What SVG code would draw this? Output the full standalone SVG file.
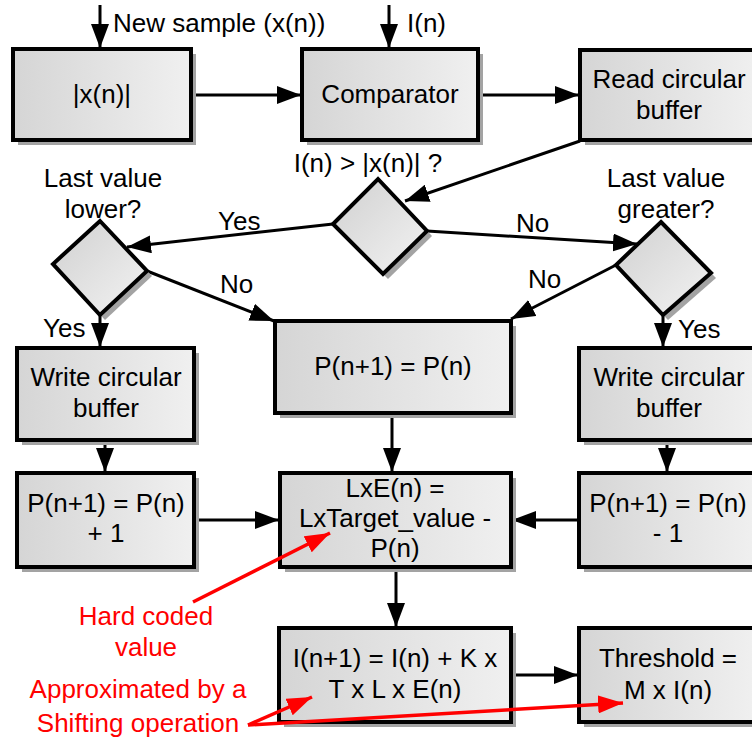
<svg xmlns="http://www.w3.org/2000/svg" width="752" height="738" viewBox="0 0 752 738">
<defs>
<linearGradient id="gb" x1="0" y1="0" x2="1" y2="0"><stop offset="0" stop-color="#d5d5d5"/><stop offset="1" stop-color="#f0f0f0"/></linearGradient>
<linearGradient id="gd" x1="0" y1="0" x2="1" y2="1"><stop offset="0" stop-color="#d0d0d0"/><stop offset="1" stop-color="#f3f3f3"/></linearGradient>
<marker id="ah" markerUnits="userSpaceOnUse" markerWidth="24" markerHeight="18" refX="24" refY="9" orient="auto"><path d="M0,0 L24,9 L0,18 z" fill="#000"/></marker>
<marker id="ahr" markerUnits="userSpaceOnUse" markerWidth="25" markerHeight="18" refX="25" refY="9" orient="auto"><path d="M0,0 L25,9 L0,18 z" fill="#f00"/></marker>
<style>
.box{fill:url(#gb);stroke:#000;stroke-width:4}
.dia{fill:url(#gd);stroke:#000;stroke-width:4;stroke-linejoin:miter}
.sh{fill:#a3a3a3}
text{font-family:"Liberation Sans",Arial,sans-serif;font-size:26px;fill:#000}
.c{text-anchor:middle}
.red{fill:#f00}
.ln{stroke:#000;stroke-width:3;fill:none;marker-end:url(#ah)}
.rl{stroke:#f00;stroke-width:3.5;fill:none}
.ra{marker-end:url(#ahr)}
</style>
</defs>

<g id="connectors">
<line class="ln" x1="100" y1="5" x2="100" y2="48"/>
<line class="ln" x1="389" y1="5" x2="389" y2="48"/>
<line class="ln" x1="191" y1="95" x2="301" y2="95"/>
<line class="ln" x1="478" y1="95" x2="579" y2="95"/>
<line class="ln" x1="580" y1="141" x2="405" y2="201"/>
<line class="ln" x1="333" y1="224" x2="127" y2="247"/>
<line class="ln" x1="427" y1="231" x2="637" y2="244"/>
<line class="ln" x1="147" y1="271" x2="274" y2="321"/>
<line class="ln" x1="616" y1="265" x2="511" y2="319"/>
<line class="ln" x1="100" y1="315" x2="100" y2="347"/>
<line class="ln" x1="663" y1="315" x2="663" y2="347"/>
<line class="ln" x1="105" y1="440" x2="105" y2="472"/>
<line class="ln" x1="392" y1="413" x2="392" y2="472"/>
<line class="ln" x1="667" y1="440" x2="667" y2="472"/>
<line class="ln" x1="194" y1="520" x2="279" y2="520"/>
<line class="ln" x1="579" y1="520" x2="512" y2="520"/>
<line class="ln" x1="396" y1="567" x2="396" y2="627"/>
<line class="ln" x1="511" y1="675" x2="578" y2="675"/>
<text x="218" y="230">Yes</text>
<text x="516" y="232">No</text>
<text x="220" y="293">No</text>
<text x="528" y="288">No</text>
<text x="43" y="337">Yes</text>
<text x="678" y="338">Yes</text>
</g>

<g id="input-labels">
<text x="113" y="32">New sample (x(n))</text>
<text x="407" y="32">I(n)</text>
</g>

<g id="abs">
<rect class="sh" x="18" y="54" width="178" height="91"/>
<rect class="box" x="13" y="49" width="178" height="91"/>
<text class="c" x="102" y="103">|x(n)|</text>
</g>

<g id="comparator">
<rect class="sh" x="307" y="54" width="176" height="91"/>
<rect class="box" x="302" y="49" width="176" height="91"/>
<text class="c" x="390" y="103">Comparator</text>
</g>

<g id="read-buffer">
<rect class="sh" x="585" y="55" width="178" height="90"/>
<rect class="box" x="580" y="50" width="178" height="90"/>
<text class="c" x="669" y="88">Read circular</text>
<text class="c" x="669" y="119">buffer</text>
</g>

<g id="decision-main">
<text class="c" x="368" y="172">I(n) &gt; |x(n)| ?</text>
<polygon class="sh" points="383,184 432,236 388,279 338,229"/>
<polygon class="dia" points="378,179 427,231 383,274 333,224"/>
</g>

<g id="decision-lower">
<text class="c" x="103" y="187">Last value</text>
<polygon class="sh" points="105,226 152,276 105,320 58,269"/>
<polygon class="dia" points="100,221 147,271 100,315 53,264"/>
<text class="c" x="103" y="218">lower?</text>
</g>

<g id="decision-greater">
<text class="c" x="666" y="187">Last value</text>
<polygon class="sh" points="666,227 716,278 668,320 621,270"/>
<polygon class="dia" points="661,222 711,273 663,315 616,265"/>
<text class="c" x="666" y="218">greater?</text>
</g>

<g id="write-left">
<rect class="sh" x="22" y="353" width="177" height="92"/>
<rect class="box" x="17" y="348" width="177" height="92"/>
<text class="c" x="106" y="386">Write circular</text>
<text class="c" x="106" y="417">buffer</text>
</g>

<g id="hold">
<rect class="sh" x="280" y="326" width="236" height="92"/>
<rect class="box" x="275" y="321" width="236" height="92"/>
<text class="c" x="393" y="375">P(n+1) = P(n)</text>
</g>

<g id="write-right">
<rect class="sh" x="584" y="353" width="178" height="92"/>
<rect class="box" x="579" y="348" width="178" height="92"/>
<text class="c" x="669" y="386">Write circular</text>
<text class="c" x="669" y="417">buffer</text>
</g>

<g id="inc">
<rect class="sh" x="22" y="478" width="177" height="94"/>
<rect class="box" x="17" y="473" width="177" height="94"/>
<text class="c" x="106" y="512">P(n+1) = P(n)</text>
<text class="c" x="106" y="542">+ 1</text>
</g>

<g id="error">
<rect class="sh" x="285" y="478" width="231" height="94"/>
<rect class="box" x="280" y="473" width="231" height="94"/>
<text class="c" x="395" y="497">LxE(n) =</text>
<text class="c" x="395" y="527">LxTarget_value -</text>
<text class="c" x="395" y="557">P(n)</text>
</g>

<g id="dec">
<rect class="sh" x="584" y="478" width="178" height="94"/>
<rect class="box" x="579" y="473" width="178" height="94"/>
<text class="c" x="668" y="512">P(n+1) = P(n)</text>
<text class="c" x="668" y="542">- 1</text>
</g>

<g id="update">
<rect class="sh" x="284" y="633" width="232" height="94"/>
<rect class="box" x="279" y="628" width="232" height="94"/>
<text class="c" x="395" y="667">I(n+1) = I(n) + K x</text>
<text class="c" x="395" y="698">T x L x E(n)</text>
</g>

<g id="threshold">
<rect class="sh" x="584" y="633" width="178" height="94"/>
<rect class="box" x="579" y="628" width="178" height="94"/>
<text class="c" x="668" y="667">Threshold =</text>
<text class="c" x="668" y="699">M x I(n)</text>
</g>

<g id="annotations">
<line class="rl ra" x1="193" y1="602" x2="330" y2="533"/>
<line class="rl ra" x1="248" y1="725" x2="312" y2="697"/>
<line class="rl ra" x1="248" y1="725" x2="623" y2="703"/>
<text class="c red" x="146" y="625">Hard coded</text>
<text class="c red" x="146" y="656">value</text>
<text class="c red" x="138" y="698">Approximated by a</text>
<text class="c red" x="138" y="732">Shifting operation</text>
</g>
</svg>
